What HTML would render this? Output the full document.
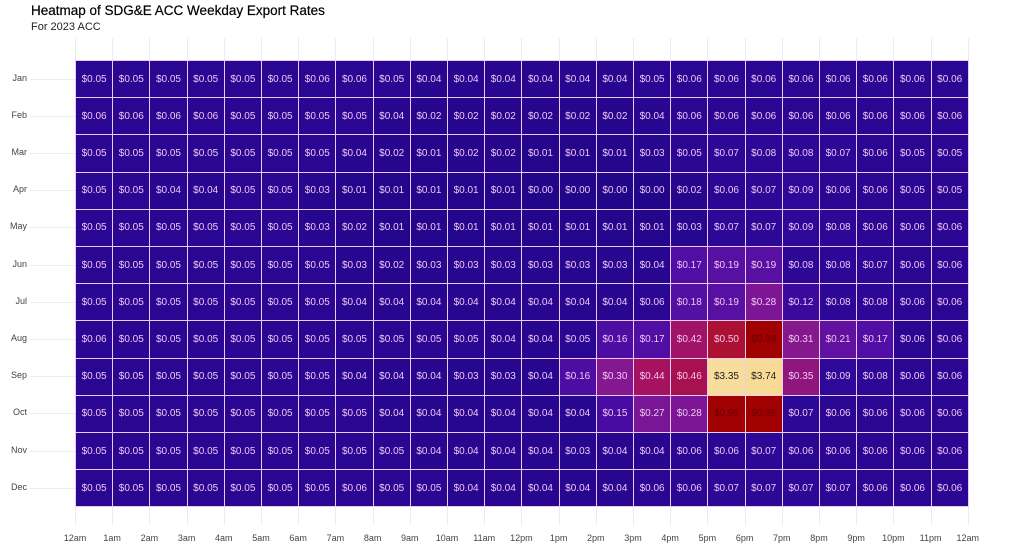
<!DOCTYPE html>
<html><head><meta charset="utf-8"><style>
body{margin:0;width:1024px;height:546px;background:#fff;font-family:"Liberation Sans",sans-serif;position:relative;overflow:hidden}
.t{position:absolute;left:31px;top:3px;font-size:13.5px;color:#000;-webkit-text-stroke:0.2px #000}
.s{position:absolute;left:31px;top:21px;font-size:11px;color:#222}
.g{position:absolute;background:#ececec}
.c{position:absolute;box-sizing:border-box;border:1px solid #eccaf2;font-size:10px;display:flex;align-items:center;justify-content:center}
.yl{position:absolute;left:0;width:27px;text-align:right;font-size:9px;color:#444}
.xl{position:absolute;top:533px;font-size:9px;color:#444;width:40px;text-align:center}
</style></head><body>
<div class="t">Heatmap of SDG&amp;E ACC Weekday Export Rates</div>
<div class="s">For 2023 ACC</div>
<div id="p"></div>
<script>
const M=["Jan","Feb","Mar","Apr","May","Jun","Jul","Aug","Sep","Oct","Nov","Dec"];
const D=[
"05 05 05 05 05 05 06 06 05 04 04 04 04 04 04 05 06 06 06 06 06 06 06 06",
"06 06 06 06 05 05 05 05 04 02 02 02 02 02 02 04 06 06 06 06 06 06 06 06",
"05 05 05 05 05 05 05 04 02 01 02 02 01 01 01 03 05 07 08 08 07 06 05 05",
"05 05 04 04 05 05 03 01 01 01 01 01 00 00 00 00 02 06 07 09 06 06 05 05",
"05 05 05 05 05 05 03 02 01 01 01 01 01 01 01 01 03 07 07 09 08 06 06 06",
"05 05 05 05 05 05 05 03 02 03 03 03 03 03 03 04 17 19 19 08 08 07 06 06",
"05 05 05 05 05 05 05 04 04 04 04 04 04 04 04 06 18 19 28 12 08 08 06 06",
"06 05 05 05 05 05 05 05 05 05 05 04 04 05 16 17 42 50 98 31 21 17 06 06",
"05 05 05 05 05 05 05 04 04 04 03 03 04 16 30 44 46 335 374 35 09 08 06 06",
"05 05 05 05 05 05 05 05 04 04 04 04 04 04 15 27 28 95 98 07 06 06 06 06",
"05 05 05 05 05 05 05 05 05 04 04 04 04 03 04 04 06 06 07 06 06 06 06 06",
"05 05 05 05 05 05 05 06 05 05 04 04 04 04 04 06 06 07 07 07 07 06 06 06"];
const S=[[0,[34,6,138]],[0.09,[46,8,152]],[0.17,[80,14,165]],[0.3,[132,24,145]],[0.44,[165,18,95]],[0.5,[172,16,50]],[0.98,[160,0,0]],[1.5,[200,80,40]],[3.35,[248,220,156]],[4,[245,216,144]]];
function col(v){for(let i=1;i<S.length;i++){if(v<=S[i][0]){const a=S[i-1],b=S[i],t=(v-a[0])/(b[0]-a[0]);return "rgb("+a[1].map((x,k)=>Math.round(x+(b[1][k]-x)*t)).join(",")+")";}}return "rgb(245,216,144)";}
const X0=75,W=37.2,Y0=60,H=37.2;let h="";
for(let i=0;i<=24;i++){h+=`<div class="g" style="left:${X0+i*W}px;top:38px;width:1px;height:487px"></div>`;}
for(let r=0;r<12;r++){h+=`<div class="g" style="left:30px;top:${Y0+r*H+H/2}px;width:938px;height:1px"></div>`;}
const L=["12am","1am","2am","3am","4am","5am","6am","7am","8am","9am","10am","11am","12pm","1pm","2pm","3pm","4pm","5pm","6pm","7pm","8pm","9pm","10pm","11pm","12am"];
L.forEach((l,i)=>h+=`<div class="xl" style="left:${X0+i*W-20}px">${l}</div>`);
D.forEach((row,r)=>{h+=`<div class="yl" style="top:${Y0+r*H+H/2-6}px">${M[r]}</div>`;
row.split(" ").forEach((s,c)=>{const v=parseInt(s,10)/100;const tc=v>=3?"#222":v>=0.9?"#6a0000":"#f2c6f2";
h+=`<div class="c" style="left:${X0+c*W}px;top:${Y0+r*H}px;width:${W+1}px;height:${H+1}px;background:${col(v)};color:${tc}">$${v.toFixed(2)}</div>`;});});
document.getElementById("p").innerHTML=h;
</script>
</body></html>
